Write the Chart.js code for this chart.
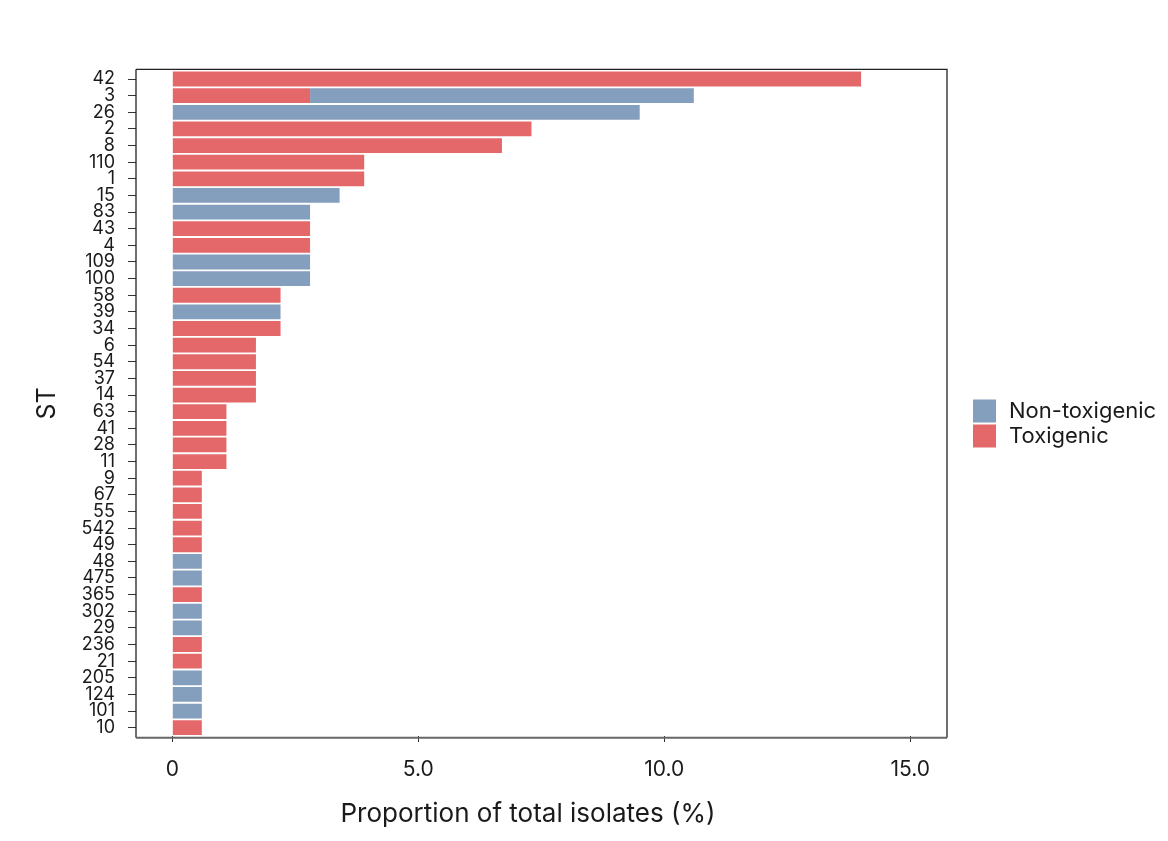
<!DOCTYPE html>
<html><head><meta charset="utf-8">
<script src="https://cdn.jsdelivr.net/npm/chart.js@4/dist/chart.umd.min.js"></script>
<style>html,body{margin:0;padding:0;background:#fff;} #wrap{width:1168px;height:841px;}</style>
</head><body><div id="wrap"><canvas id="c" width="1168" height="841"></canvas></div>
<script>
const categories = ['42','3','26','2','8','110','1','15','83','43','4','109','100','58','39','34','6','54','37','14','63','41','28','11','9','67','55','542','49','48','475','365','302','29','236','21','205','124','101','10'];
const toxigenic = [14.0,2.8,null,7.3,6.7,3.9,3.9,null,null,2.8,2.8,null,null,2.2,null,2.2,1.7,1.7,1.7,1.7,1.1,1.1,1.1,1.1,0.6,0.6,0.6,0.6,0.6,null,null,0.6,null,null,0.6,0.6,null,null,null,0.6];
const nonToxigenic = [null,7.8,9.5,null,null,null,null,3.4,2.8,null,null,2.8,2.8,null,2.2,null,null,null,null,null,null,null,null,null,null,null,null,null,null,0.6,0.6,null,0.6,0.6,null,null,0.6,0.6,0.6,null];
const xTickValues = [0,5,10,15];
const xTickLabels = ['0','5.0','10.0','15.0'];
const seriesNames = ['Toxigenic','Non-toxigenic'];
const seriesColors = ['#E4686A','#849EBD'];
const xTitle = 'Proportion of total isolates (%)';
const yTitle = 'ST';

const FONT = 'Inter, "Noto Sans", "DejaVu Sans", sans-serif';
Chart.defaults.font.family = FONT;
Chart.defaults.color = '#1a1a1a';

const framePlugin = {
  id: 'frame',
  afterDatasetsDraw(chart) {
    const {ctx, chartArea: a} = chart;
    const top = a.top - 1.4, bottom = a.bottom + 1.7;
    ctx.save();
    ctx.strokeStyle = '#222';
    ctx.lineWidth = 1.3;
    ctx.beginPath();
    ctx.moveTo(a.left, top); ctx.lineTo(a.right, top); ctx.lineTo(a.right, bottom);
    ctx.moveTo(a.left, top); ctx.lineTo(a.left, bottom);
    ctx.stroke();
    ctx.strokeStyle = '#666';
    ctx.lineWidth = 2;
    ctx.beginPath();
    ctx.moveTo(a.left, bottom); ctx.lineTo(a.right, bottom);
    ctx.stroke();
    // x axis title
    ctx.fillStyle = '#1a1a1a';
    ctx.font = '26px ' + FONT;
    ctx.textAlign = 'center';
    ctx.textBaseline = 'middle';
    ctx.fillText(xTitle, 528, 814);
    // legend (reversed order)
    const ds = chart.data.datasets.slice().reverse();
    ctx.font = '22px ' + FONT;
    ctx.textAlign = 'left';
    ds.forEach((d, i) => {
      const y = 399.5 + i * 25;
      ctx.fillStyle = d.backgroundColor;
      ctx.fillRect(973, y, 23, 23);
      ctx.fillStyle = '#1a1a1a';
      ctx.fillText(d.label, 1009, y + 12);
    });
    ctx.restore();
  }
};

new Chart(document.getElementById('c'), {
  type: 'bar',
  data: {
    labels: categories,
    datasets: [
      {label: seriesNames[0], data: toxigenic, backgroundColor: seriesColors[0], borderWidth: 0, barPercentage: 0.89, categoryPercentage: 1.0},
      {label: seriesNames[1], data: nonToxigenic, backgroundColor: seriesColors[1], borderWidth: 0, barPercentage: 0.89, categoryPercentage: 1.0}
    ]
  },
  options: {
    indexAxis: 'y',
    responsive: false,
    animation: false,
    devicePixelRatio: 1,
    layout: {padding: {top: 70.7, right: 221, bottom: 0, left: 0}},
    plugins: {legend: {display: false}, tooltip: {enabled: false}},
    scales: {
      x: {
        type: 'linear', stacked: true,
        min: -0.738, max: 15.746,
        afterBuildTicks: (s) => { s.ticks = xTickValues.map(v => ({value: v})); },
        afterFit: (s) => { s.height = 841 - 736; },
        ticks: {
          callback: (v, i) => xTickLabels[i],
          font: {size: 21}, color: '#1a1a1a', padding: 15, maxRotation: 0, autoSkip: false
        },
        grid: {drawOnChartArea: false, drawTicks: true, tickLength: 6, color: '#333', lineWidth: 1},
        border: {display: false},
        title: {display: false, text: xTitle}
      },
      y: {
        type: 'category', stacked: true,
        afterFit: (s) => { s.width = 136; },
        ticks: {font: {size: 18, lineHeight: 1}, color: '#1a1a1a', padding: 13, autoSkip: false},
        grid: {offset: false, drawOnChartArea: false, drawTicks: true, tickLength: 8, color: '#333', lineWidth: 1},
        border: {display: false},
        title: {display: true, text: yTitle, font: {size: 25}, color: '#1a1a1a', padding: {top: 32, bottom: 0}}
      }
    }
  },
  plugins: [framePlugin]
});
</script>
</body></html>
